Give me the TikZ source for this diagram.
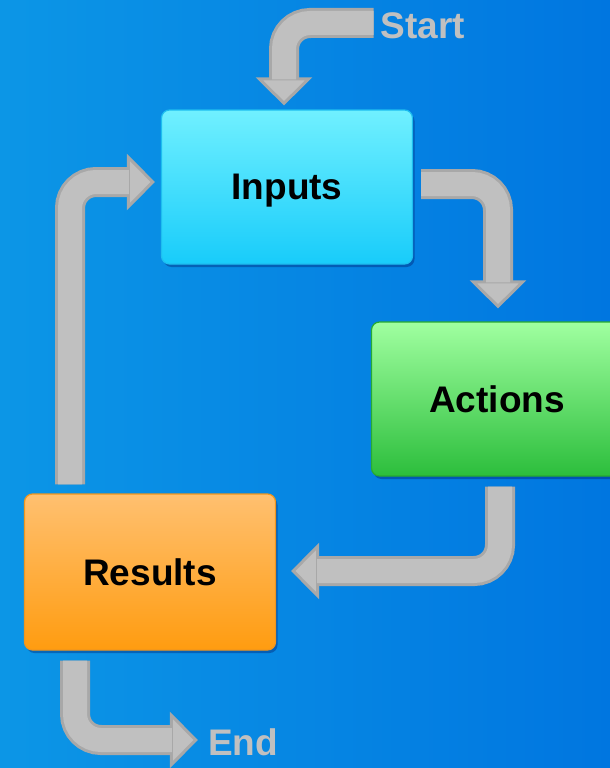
\documentclass[tikz,border=0pt]{standalone}
\usepackage{fontspec}
\setmainfont{Liberation Sans}
\usetikzlibrary{arrows.meta,shadows}
\definecolor{bgleft}{RGB}{12,150,230}
\definecolor{bgright}{RGB}{0,118,224}
\definecolor{arrowfill}{RGB}{192,192,192}
\definecolor{arrowline}{RGB}{168,168,168}
\definecolor{intop}{RGB}{112,240,255}
\definecolor{inbottom}{RGB}{24,204,250}
\definecolor{inline}{RGB}{30,190,240}
\definecolor{actop}{RGB}{160,255,160}
\definecolor{acbottom}{RGB}{44,190,60}
\definecolor{acline}{RGB}{40,170,50}
\definecolor{restop}{RGB}{255,192,112}
\definecolor{resbottom}{RGB}{255,156,16}
\definecolor{resline}{RGB}{240,150,30}
\begin{document}
\begin{tikzpicture}[x=1pt,y=-1pt,
   box/.style={rounded corners=8pt, minimum width=251pt, minimum height=154pt,
     line width=1.2pt, text depth=0pt,
     font=\fontsize{37}{44}\selectfont\bfseries,
     drop shadow={shadow xshift=2pt,shadow yshift=-3pt,opacity=.3,fill=black!70!blue}},
   flowtext/.style={inner sep=0pt, text=arrowfill,
     font=\fontsize{37}{44}\selectfont\bfseries},
   flow/.style={draw=arrowline, line width=30pt, rounded corners=26pt,
     -{Triangle[length=28pt,width=56pt,line width=3pt,fill=arrowfill]},
     postaction={draw=arrowfill, line width=24pt, arrows=-, shorten >=26pt}}]

\useasboundingbox (0,0) rectangle (610,768);
\fill[left color=bgleft, right color=bgright] (0,0) rectangle (610,768);

\node[box, draw=inline, top color=intop, bottom color=inbottom] (inputs) at (287,187) {Inputs};
\node[box, draw=acline, top color=actop, bottom color=acbottom] (actions) at (497,399) {Actions};
\node[box, draw=resline, top color=restop, bottom color=resbottom, minimum height=156pt] (results) at (150,572) {Results};
\node[flowtext] (start) at (423,26) {Start};
\node[flowtext] (stop) at (243,742) {End};

\draw[flow] ([xshift=-7pt,yshift=3pt]start.west) -| ([xshift=-3pt,yshift=4pt]inputs.north);
\draw[flow] ([xshift=8pt,yshift=3pt]inputs.east) -| ([xshift=1pt,yshift=13pt]actions.north);
\draw[flow] ([xshift=3pt,yshift=-10pt]actions.south) |- ([xshift=15pt,yshift=1pt]results.east);
\draw[flow] ([xshift=-80pt,yshift=9pt]results.north) |- ([xshift=-6pt,yshift=5pt]inputs.west);
\draw[flow] ([xshift=-75pt,yshift=-10pt]results.south) |- ([xshift=-10pt,yshift=2pt]stop.west);

\end{tikzpicture}
\end{document}
